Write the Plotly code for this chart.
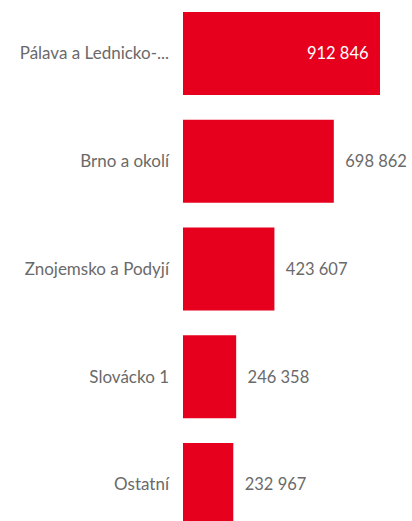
import plotly.graph_objects as go

categories = ["Pálava a Lednicko-...", "Brno a okolí", "Znojemsko a Podyjí", "Slovácko 1", "Ostatní"]
values = [912846, 698862, 423607, 246358, 232967]
text_positions = ["inside", "outside", "outside", "outside", "outside"]

NB = "\u00a0"
labels = []
for v, p in zip(values, text_positions):
    s = f"{v:,}".replace(",", " ")
    labels.append(s + NB * 2 if p == "inside" else NB * 2 + s)
ypos = list(range(len(categories)))

FONT = "Lato"
GRAY = "#6a6a6a"
fig = go.Figure(
    go.Bar(
        x=values,
        y=ypos,
        orientation="h",
        width=0.77,
        marker=dict(color="#E6001E", line=dict(width=0)),
        text=labels,
        textposition=text_positions,
        insidetextanchor="end",
        insidetextfont=dict(color="white", size=16.5, family=FONT),
        outsidetextfont=dict(color=GRAY, size=16.5, family=FONT),
        textangle=0,
        cliponaxis=False,
        hoverinfo="skip",
    )
)

fig.update_layout(
    width=412,
    height=521,
    margin=dict(l=183, r=0, t=0, b=0),
    paper_bgcolor="white",
    plot_bgcolor="white",
    showlegend=False,
    font=dict(family=FONT, size=17, color=GRAY),
)
fig.update_xaxes(range=[0, 1061100], visible=False, fixedrange=True)
fig.update_yaxes(
    range=[4.339, -0.4965],
    tickvals=ypos,
    ticktext=categories,
    showgrid=False,
    zeroline=False,
    showline=False,
    ticks="",
    ticklabelstandoff=13,
    tickfont=dict(family=FONT, size=17, color=GRAY),
    fixedrange=True,
)

fig.write_html(
    "out.html",
    config={"displayModeBar": False, "staticPlot": True},
    post_script="document.body.style.margin='0';document.body.style.padding='0';",
)
